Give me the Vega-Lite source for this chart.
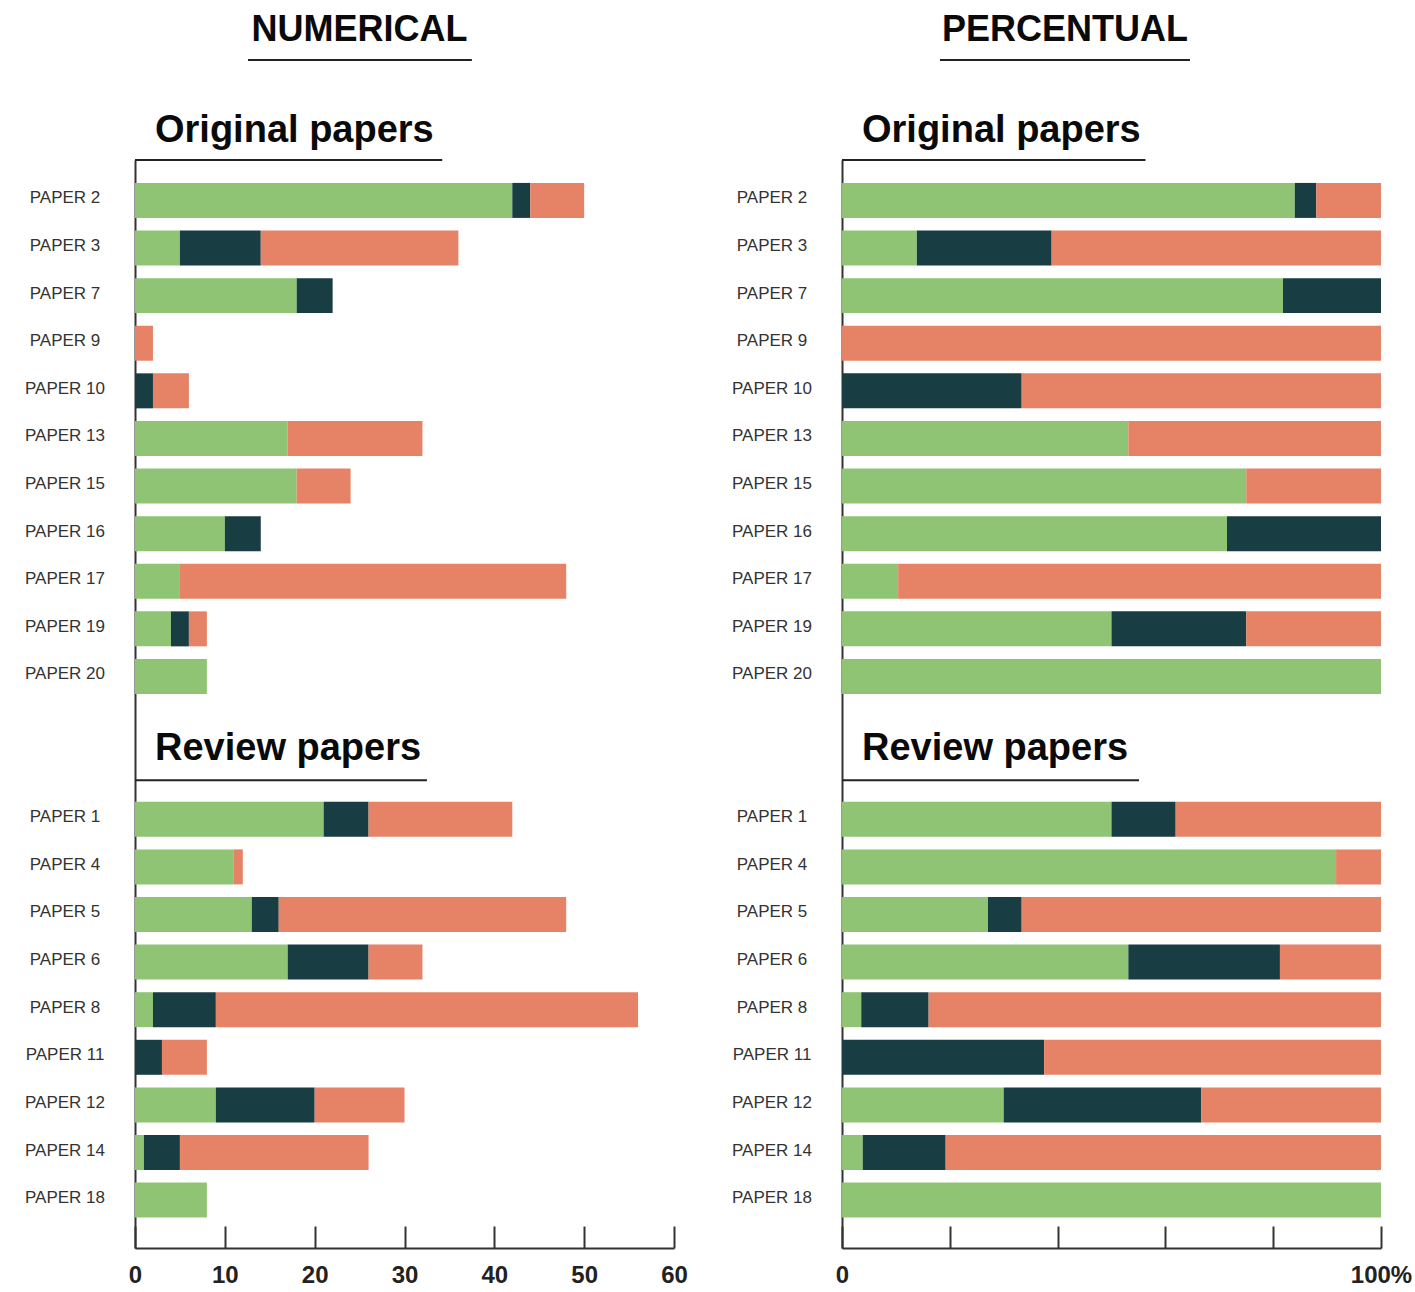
{
  "$schema": "https://vega.github.io/schema/vega-lite/v6.json",
  "background": "white",
  "padding": {"left": 5, "top": 11, "right": 5, "bottom": 5},
  "spacing": 24,
  "config": {"view": {"stroke": null}, "font": "Liberation Sans"},
  "datasets": {
    "papers": [
      {"paper": "PAPER 2", "group": "Original papers", "category": "Positive", "rank": 1, "n": 42},
      {"paper": "PAPER 2", "group": "Original papers", "category": "Neutral", "rank": 2, "n": 2},
      {"paper": "PAPER 2", "group": "Original papers", "category": "Negative", "rank": 3, "n": 6},
      {"paper": "PAPER 3", "group": "Original papers", "category": "Positive", "rank": 1, "n": 5},
      {"paper": "PAPER 3", "group": "Original papers", "category": "Neutral", "rank": 2, "n": 9},
      {"paper": "PAPER 3", "group": "Original papers", "category": "Negative", "rank": 3, "n": 22},
      {"paper": "PAPER 7", "group": "Original papers", "category": "Positive", "rank": 1, "n": 18},
      {"paper": "PAPER 7", "group": "Original papers", "category": "Neutral", "rank": 2, "n": 4},
      {"paper": "PAPER 9", "group": "Original papers", "category": "Negative", "rank": 3, "n": 2},
      {"paper": "PAPER 10", "group": "Original papers", "category": "Neutral", "rank": 2, "n": 2},
      {"paper": "PAPER 10", "group": "Original papers", "category": "Negative", "rank": 3, "n": 4},
      {"paper": "PAPER 13", "group": "Original papers", "category": "Positive", "rank": 1, "n": 17},
      {"paper": "PAPER 13", "group": "Original papers", "category": "Negative", "rank": 3, "n": 15},
      {"paper": "PAPER 15", "group": "Original papers", "category": "Positive", "rank": 1, "n": 18},
      {"paper": "PAPER 15", "group": "Original papers", "category": "Negative", "rank": 3, "n": 6},
      {"paper": "PAPER 16", "group": "Original papers", "category": "Positive", "rank": 1, "n": 10},
      {"paper": "PAPER 16", "group": "Original papers", "category": "Neutral", "rank": 2, "n": 4},
      {"paper": "PAPER 17", "group": "Original papers", "category": "Positive", "rank": 1, "n": 5},
      {"paper": "PAPER 17", "group": "Original papers", "category": "Negative", "rank": 3, "n": 43},
      {"paper": "PAPER 19", "group": "Original papers", "category": "Positive", "rank": 1, "n": 4},
      {"paper": "PAPER 19", "group": "Original papers", "category": "Neutral", "rank": 2, "n": 2},
      {"paper": "PAPER 19", "group": "Original papers", "category": "Negative", "rank": 3, "n": 2},
      {"paper": "PAPER 20", "group": "Original papers", "category": "Positive", "rank": 1, "n": 8},
      {"paper": "PAPER 1", "group": "Review papers", "category": "Positive", "rank": 1, "n": 21},
      {"paper": "PAPER 1", "group": "Review papers", "category": "Neutral", "rank": 2, "n": 5},
      {"paper": "PAPER 1", "group": "Review papers", "category": "Negative", "rank": 3, "n": 16},
      {"paper": "PAPER 4", "group": "Review papers", "category": "Positive", "rank": 1, "n": 11},
      {"paper": "PAPER 4", "group": "Review papers", "category": "Negative", "rank": 3, "n": 1},
      {"paper": "PAPER 5", "group": "Review papers", "category": "Positive", "rank": 1, "n": 13},
      {"paper": "PAPER 5", "group": "Review papers", "category": "Neutral", "rank": 2, "n": 3},
      {"paper": "PAPER 5", "group": "Review papers", "category": "Negative", "rank": 3, "n": 32},
      {"paper": "PAPER 6", "group": "Review papers", "category": "Positive", "rank": 1, "n": 17},
      {"paper": "PAPER 6", "group": "Review papers", "category": "Neutral", "rank": 2, "n": 9},
      {"paper": "PAPER 6", "group": "Review papers", "category": "Negative", "rank": 3, "n": 6},
      {"paper": "PAPER 8", "group": "Review papers", "category": "Positive", "rank": 1, "n": 2},
      {"paper": "PAPER 8", "group": "Review papers", "category": "Neutral", "rank": 2, "n": 7},
      {"paper": "PAPER 8", "group": "Review papers", "category": "Negative", "rank": 3, "n": 47},
      {"paper": "PAPER 11", "group": "Review papers", "category": "Neutral", "rank": 2, "n": 3},
      {"paper": "PAPER 11", "group": "Review papers", "category": "Negative", "rank": 3, "n": 5},
      {"paper": "PAPER 12", "group": "Review papers", "category": "Positive", "rank": 1, "n": 9},
      {"paper": "PAPER 12", "group": "Review papers", "category": "Neutral", "rank": 2, "n": 11},
      {"paper": "PAPER 12", "group": "Review papers", "category": "Negative", "rank": 3, "n": 10},
      {"paper": "PAPER 14", "group": "Review papers", "category": "Positive", "rank": 1, "n": 1},
      {"paper": "PAPER 14", "group": "Review papers", "category": "Neutral", "rank": 2, "n": 4},
      {"paper": "PAPER 14", "group": "Review papers", "category": "Negative", "rank": 3, "n": 21},
      {"paper": "PAPER 18", "group": "Review papers", "category": "Positive", "rank": 1, "n": 8}
    ]
  },
  "hconcat": [
    {
      "width": 539,
      "height": 1088,
      "layer": [
        {
          "data": {"name": "papers"},
          "mark": {"type": "bar"},
          "encoding": {
            "y": {
              "field": "paper", "type": "nominal",
              "scale": {
                "domain": ["PAPER 2", "PAPER 3", "PAPER 7", "PAPER 9", "PAPER 10", "PAPER 13", "PAPER 15", "PAPER 16", "PAPER 17", "PAPER 19", "PAPER 20", "gap1", "gap2", "PAPER 1", "PAPER 4", "PAPER 5", "PAPER 6", "PAPER 8", "PAPER 11", "PAPER 12", "PAPER 14", "PAPER 18"],
                "paddingInner": 0.265, "paddingOuter": 0.56, "align": 0.43
              },
              "axis": {
                "title": null, "ticks": false, "domainWidth": 2, "domainColor": "#333333",
                "labelFontSize": 17, "labelColor": "#333333", "labelAlign": "center",
                "labelPadding": 70.5, "minExtent": 130, "labelOffset": -2,
                "labelExpr": "indexof(datum.label, 'PAPER') === 0 ? datum.label : ''"
              }
            },
            "x": {
              "field": "n", "type": "quantitative", "stack": "zero",
              "scale": {"domain": [0, 60], "nice": false},
              "axis": {
                "title": null, "values": [0, 10, 20, 30, 40, 50, 60], "format": "d",
                "grid": false, "tickSize": -22, "tickWidth": 2, "tickColor": "#333333",
                "domainWidth": 2, "domainColor": "#333333",
                "labelFontSize": 24, "labelFontWeight": "bold", "labelColor": "#222222",
                "labelPadding": 37, "labelFlush": false, "labelOverlap": false
              }
            },
            "color": {
              "field": "category", "type": "nominal",
              "scale": {"domain": ["Positive", "Neutral", "Negative"], "range": ["#8fc474", "#183d42", "#e68266"]},
              "legend": null
            },
            "order": {"field": "rank", "type": "quantitative"}
          }
        },
        {
          "data": {"values": [{}]},
          "mark": {"type": "text", "text": "NUMERICAL", "fontSize": 36, "fontWeight": "bold", "color": "#0a0a0a", "align": "center", "baseline": "alphabetic", "dy": -159.5},
          "encoding": {"x": {"datum": 25, "type": "quantitative"}, "y": {"datum": "PAPER 2", "type": "nominal"}}
        },
        {
          "data": {"values": [{}]},
          "mark": {"type": "rule", "strokeWidth": 2, "color": "#222222", "yOffset": -140.5},
          "encoding": {"x": {"datum": 12.58, "type": "quantitative"}, "x2": {"datum": 37.5}, "y": {"datum": "PAPER 2", "type": "nominal", "bandPosition": 0.5}}
        },
        {
          "data": {"values": [{}]},
          "mark": {"type": "text", "text": "Original papers", "fontSize": 38, "fontWeight": "bold", "color": "#0a0a0a", "align": "left", "baseline": "alphabetic", "dx": 20, "dy": -58.5},
          "encoding": {"x": {"datum": 0, "type": "quantitative"}, "y": {"datum": "PAPER 2", "type": "nominal"}}
        },
        {
          "data": {"values": [{}]},
          "mark": {"type": "rule", "strokeWidth": 2, "color": "#222222", "yOffset": -40.5},
          "encoding": {"x": {"datum": 0, "type": "quantitative"}, "x2": {"datum": 34.2}, "y": {"datum": "PAPER 2", "type": "nominal", "bandPosition": 0.5}}
        },
        {
          "data": {"values": [{}]},
          "mark": {"type": "text", "text": "Review papers", "fontSize": 38, "fontWeight": "bold", "color": "#0a0a0a", "align": "left", "baseline": "alphabetic", "dx": 20, "dy": -59.5},
          "encoding": {"x": {"datum": 0, "type": "quantitative"}, "y": {"datum": "PAPER 1", "type": "nominal"}}
        },
        {
          "data": {"values": [{}]},
          "mark": {"type": "rule", "strokeWidth": 2, "color": "#222222", "yOffset": -39},
          "encoding": {"x": {"datum": 0, "type": "quantitative"}, "x2": {"datum": 32.5}, "y": {"datum": "PAPER 1", "type": "nominal", "bandPosition": 0.5}}
        }
      ]
    },
    {
      "width": 539,
      "height": 1088,
      "layer": [
        {
          "data": {"name": "papers"},
          "mark": {"type": "bar"},
          "encoding": {
            "y": {
              "field": "paper", "type": "nominal",
              "scale": {
                "domain": ["PAPER 2", "PAPER 3", "PAPER 7", "PAPER 9", "PAPER 10", "PAPER 13", "PAPER 15", "PAPER 16", "PAPER 17", "PAPER 19", "PAPER 20", "gap1", "gap2", "PAPER 1", "PAPER 4", "PAPER 5", "PAPER 6", "PAPER 8", "PAPER 11", "PAPER 12", "PAPER 14", "PAPER 18"],
                "paddingInner": 0.265, "paddingOuter": 0.56, "align": 0.43
              },
              "axis": {
                "title": null, "ticks": false, "domainWidth": 2, "domainColor": "#333333",
                "labelFontSize": 17, "labelColor": "#333333", "labelAlign": "center",
                "labelPadding": 70.5, "minExtent": 130, "labelOffset": -2,
                "labelExpr": "indexof(datum.label, 'PAPER') === 0 ? datum.label : ''"
              }
            },
            "x": {
              "field": "n", "type": "quantitative", "stack": "normalize",
              "scale": {"domain": [0, 1], "nice": false},
              "axis": {
                "title": null, "values": [0, 0.2, 0.4, 0.6, 0.8, 1],
                "labelExpr": "datum.value === 0 ? '0' : (datum.value === 1 ? '100%' : '')",
                "grid": false, "tickSize": -22, "tickWidth": 2, "tickColor": "#333333",
                "domainWidth": 2, "domainColor": "#333333",
                "labelFontSize": 24, "labelFontWeight": "bold", "labelColor": "#222222",
                "labelPadding": 37, "labelFlush": false, "labelOverlap": false
              }
            },
            "color": {
              "field": "category", "type": "nominal",
              "scale": {"domain": ["Positive", "Neutral", "Negative"], "range": ["#8fc474", "#183d42", "#e68266"]},
              "legend": null
            },
            "order": {"field": "rank", "type": "quantitative"}
          }
        },
        {
          "data": {"values": [{}]},
          "mark": {"type": "text", "text": "PERCENTUAL", "fontSize": 36, "fontWeight": "bold", "color": "#0a0a0a", "align": "center", "baseline": "alphabetic", "dy": -159.5},
          "encoding": {"x": {"datum": 0.4137, "type": "quantitative"}, "y": {"datum": "PAPER 2", "type": "nominal"}}
        },
        {
          "data": {"values": [{}]},
          "mark": {"type": "rule", "strokeWidth": 2, "color": "#222222", "yOffset": -140.5},
          "encoding": {"x": {"datum": 0.1818, "type": "quantitative"}, "x2": {"datum": 0.6456}, "y": {"datum": "PAPER 2", "type": "nominal", "bandPosition": 0.5}}
        },
        {
          "data": {"values": [{}]},
          "mark": {"type": "text", "text": "Original papers", "fontSize": 38, "fontWeight": "bold", "color": "#0a0a0a", "align": "left", "baseline": "alphabetic", "dx": 20, "dy": -58.5},
          "encoding": {"x": {"datum": 0, "type": "quantitative"}, "y": {"datum": "PAPER 2", "type": "nominal"}}
        },
        {
          "data": {"values": [{}]},
          "mark": {"type": "rule", "strokeWidth": 2, "color": "#222222", "yOffset": -40.5},
          "encoding": {"x": {"datum": 0, "type": "quantitative"}, "x2": {"datum": 0.563}, "y": {"datum": "PAPER 2", "type": "nominal", "bandPosition": 0.5}}
        },
        {
          "data": {"values": [{}]},
          "mark": {"type": "text", "text": "Review papers", "fontSize": 38, "fontWeight": "bold", "color": "#0a0a0a", "align": "left", "baseline": "alphabetic", "dx": 20, "dy": -59.5},
          "encoding": {"x": {"datum": 0, "type": "quantitative"}, "y": {"datum": "PAPER 1", "type": "nominal"}}
        },
        {
          "data": {"values": [{}]},
          "mark": {"type": "rule", "strokeWidth": 2, "color": "#222222", "yOffset": -39},
          "encoding": {"x": {"datum": 0, "type": "quantitative"}, "x2": {"datum": 0.551}, "y": {"datum": "PAPER 1", "type": "nominal", "bandPosition": 0.5}}
        }
      ]
    }
  ]
}
